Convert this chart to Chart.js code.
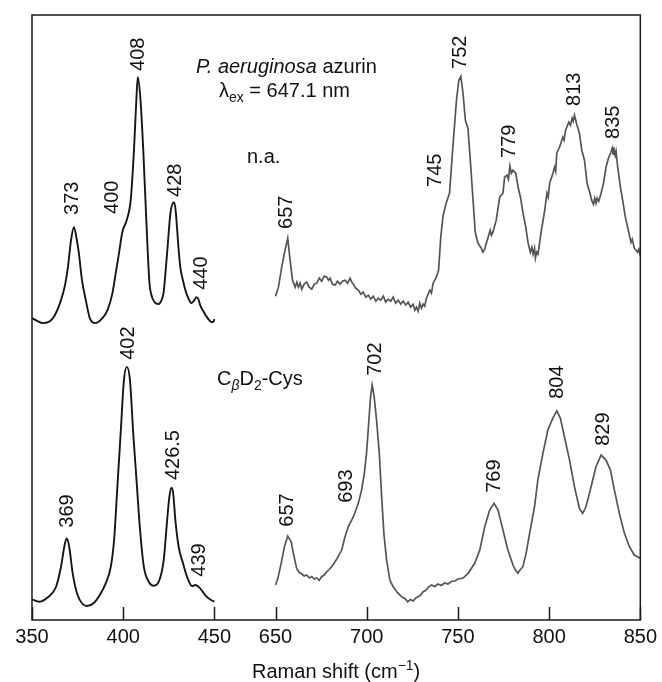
<!DOCTYPE html>
<html>
<head>
<meta charset="utf-8">
<title>Raman spectra of P. aeruginosa azurin</title>
<script src="https://cdn.jsdelivr.net/npm/chart.js@4.4.0/dist/chart.umd.min.js"></script>
<style>
  html, body { margin: 0; padding: 0; background: #fff; }
  #wrap { width: 662px; height: 682px; }
</style>
</head>
<body>
<div id="wrap"><canvas id="ramanChart" width="662" height="682"></canvas></div>
<script>
// DATA : [Raman shift (cm-1), intensity (arb. units)]
const xTicks = [350, 400, 450, 650, 700, 750, 800, 850];
const BREAK_FROM = 450;
const BREAK_TO = 650;
const BREAK_GAP = 33.5; // width of the axis break, in cm-1

// natural abundance, low region
const azurinLow = [
  [350,302],[356.1,297],[361.5,302],[365.9,320],[368.1,335],[369.7,353],[371.4,380],[373,393],
  [374.6,380],[375.7,367],[377.4,340],[379.5,320],[381.7,302],[384.6,297],[388.6,302],[391.4,310],
  [394.1,327],[395.9,347],[397.7,367],[399.5,388],[401.9,400],[404.1,420],[405.9,470],[407.2,520],
  [408,543],[409.5,520],[411,470],[412.6,403],[414.4,337],[415.5,325],[417.2,318],[419.3,316],
  [421,320],[422.1,327],[423.2,348],[424.2,370],[425.9,407],[427.8,418],[428.6,412],[429.2,400],
  [430.2,375],[431.3,353],[433,338],[434.1,330],[435.7,322],[437.3,317],[439,320],[440.1,323],
  [441.2,321],[442.2,315],[443.9,309],[445.5,304],[447.7,299],[449.3,298],[450,301]
];

// natural abundance, high region (noisy trace)
const azurinHigh = [
  [650,324],[651.6,333],[653.4,353],[654.9,367],[656.7,382],[658,360],[659.3,340],[660.8,333],
  [661.7,338],[662.6,333],[663.5,337],[664.4,331],[665.7,336],[667.1,338],[668.5,333],[669.9,331],
  [671.2,336],[672.6,337],[674,342],[675.3,339],[676.7,344],[678.1,343],[679,340],[679.9,342],
  [681.2,336],[682.6,335],[684,339],[685.4,336],[686.7,339],[688.1,340],[689.5,337],[690.9,342],
  [691.8,338],[692.7,336],[694,332],[695.4,330],[696.8,326],[698.1,328],[699.5,323],[700.9,325],
  [702.2,321],[703.6,324],[705,319],[706.3,322],[707.7,320],[709.1,324],[710.4,318],[711.8,321],
  [713.2,319],[714.5,323],[715.9,317],[717.3,320],[718.6,316],[720,319],[721.4,315],[722.7,318],
  [724.1,313],[725.5,316],[726.4,310],[727.3,313],[728.2,309],[729.1,317],[730,312],[730.9,316],
  [731.8,314],[732.7,322],[734.6,330],[735.5,327],[736.4,337],[738.2,343],[739.4,350],[740.6,383],
  [741.9,405],[743.7,418],[745.4,427],[747.1,470],[749.2,520],[750.5,540],[751.6,544],[752.8,527],
  [754.1,500],[755.5,492],[756.8,460],[758.3,420],[759.5,388],[761,377],[762.8,372],[763.7,368],
  [764.7,371],[765.4,376],[766.1,380],[767.7,390],[768.4,385],[769.2,388],[771,400],[772.9,423],
  [774.7,427],[775.6,443],[776.9,445],[777.7,441],[778.5,454],[779.3,447],[780.2,450],[781.7,447],
  [783,433],[784.3,423],[785.7,407],[787.2,393],[788.4,378],[789.7,368],[790.5,373],[791.2,366],
  [792,372],[792.5,362],[793.2,368],[793.9,366],[795.8,390],[797.6,410],[798.8,427],[799.5,423],
  [800.3,437],[802.1,447],[803,453],[803.6,449],[804.2,467],[805.7,473],[807.5,483],[808.2,480],
  [809,490],[810.8,498],[811.7,495],[812.6,502],[813.2,499],[813.9,505],[815.3,495],[816.6,487],
  [817.9,470],[819.4,460],[820.8,437],[822.4,427],[823.3,420],[824.3,416],[825,422],[825.7,417],
  [826.3,422],[827.2,419],[828.5,427],[829.8,437],[831.2,453],[832.5,462],[833.9,468],[834.6,472],
  [835.1,466],[835.4,473],[836.2,465],[836.7,469],[837.6,453],[839.1,433],[840.3,420],[841.8,403],
  [843.4,390],[844.9,378],[845.6,381],[846.7,372],[848.5,368],[849.2,371],[850,365]
];

// CbD2-Cys labelled, low region
const cysLow = [
  [350,20.7],[354.1,18.3],[358.7,22.7],[363.2,33.3],[365.9,53.3],[367.7,73.3],[369,81.7],[370.4,73.3],
  [372.3,46.7],[375,25],[380.1,14],[384.1,17.3],[387.7,26.7],[390.4,36.7],[393.2,53.3],[395,80],
  [396.8,133.3],[398.6,186.7],[400.4,240],[402,253.3],[403.7,240],[405.5,186.7],[407.3,140],[409.1,93.3],
  [411.3,53.3],[414,38.3],[416.8,34.3],[419.5,38.3],[422.2,60],[424.1,100],[425.3,123.3],[426.5,132.3],
  [427.4,126.7],[428.6,100],[430.4,73.3],[432.8,56.7],[435,43.3],[437.7,34],[439.5,35],[442.2,31.7],
  [444.9,25],[448.1,20],[450,18.3]
];

// CbD2-Cys labelled, high region
const cysHigh = [
  [650,35],[651.3,41.7],[653.1,56.7],[654.9,73.3],[656.7,84],[658.6,78.3],[659.8,66.7],[661.6,51.7],
  [663,47.5],[664.4,46],[665.7,44],[667.1,45],[668.5,42],[669.9,43.5],[671.2,41],[672.6,42],
  [673.9,39.5],[675.3,43.3],[676.7,45],[678.1,48.3],[679.4,50.5],[680.8,53.3],[682.2,57],[683.5,60.7],
  [686.3,70],[688.1,83.3],[689.9,93.3],[692.7,103.3],[695.4,116.7],[697.2,130],[698.7,146.7],[699.9,166.7],
  [701.2,200],[702.1,223.3],[703,235],[704.1,223.3],[705.4,200],[706.9,166.7],[708.1,126.7],[709.4,86.7],
  [710.9,60],[712.7,40],[714.5,33.3],[716.9,27.3],[719.5,22.7],[721,21.5],[722.4,18.3],[724,20.5],
  [725.5,19],[726.9,22],[728.2,23.3],[729.6,25],[730.9,28.3],[732.3,29.5],[733.7,32.7],[735.5,35],
  [737.3,33.5],[739.1,36],[740.9,34.5],[742.7,37],[744.6,36],[746.4,38.5],[748.3,39],[750.1,41],
  [752.8,42],[755.6,46.7],[759.2,56.7],[762,70],[764.7,93.3],[767.4,110],[769.8,116.7],[772,110],
  [773.8,96.7],[775.6,83.3],[777.4,70],[780.2,55],[781.5,50],[782.9,46.7],[783.6,49],[785.6,53.3],
  [787.4,66.7],[789.3,86.7],[792,113.3],[793.8,140],[796.6,166.7],[799.3,190],[802,201.7],[804.2,209.3],
  [806.2,201.7],[808.4,183.3],[811.2,160],[813.9,133.3],[816.6,111.7],[818.4,106.7],[820.2,113.3],[823,133.3],
  [825.7,153.3],[828.5,165],[831.2,160],[833.6,150],[835.8,130],[838.5,106.7],[841.3,86.7],[844,73.3],
  [846.7,65],[850,61.7]
];

// PEAK LABELS : [text, Raman shift at label centre, intensity at label centre]
const azurinPeaks = [
  ['373', 372.4, 422], ['400', 394.3, 423], ['408', 408.4, 566], ['428', 428.6, 440], ['440', 442.8, 347],
  ['657', 656, 408], ['745', 737.5, 450], ['752', 751.2, 568], ['779', 778, 479], ['813', 814.1, 531], ['835', 835.4, 498]
];
const cysPeaks = [
  ['369', 369.2, 109], ['402', 403, 277], ['426.5', 427.5, 165], ['439', 441.7, 60],
  ['657', 656.6, 110], ['693', 688.8, 134], ['702', 704.7, 261], ['769', 770.3, 144], ['804', 804.8, 238], ['829', 829.9, 191]
];

const FONT = '"Liberation Sans", Arial, Helvetica, sans-serif';

// BROKEN AXIS : 350-450 and 650-850 sit side by side on one linear scale
function toAxis(w) {
  return w <= BREAK_FROM ? w : w - BREAK_TO + BREAK_FROM + BREAK_GAP;
}
function fromAxis(v) {
  return v <= BREAK_FROM ? v : v - BREAK_FROM - BREAK_GAP + BREAK_TO;
}
function toPoints(arr) {
  return arr.map(p => ({ x: toAxis(p[0]), y: p[1] }));
}

// draws a run of text pieces with their own font / vertical shift
function drawParts(ctx, x, y, parts) {
  parts.forEach(p => {
    ctx.font = p.font;
    ctx.fillText(p.t, x, y + (p.dy || 0));
    x += ctx.measureText(p.t).width;
  });
}
function partsWidth(ctx, parts) {
  let w = 0;
  parts.forEach(p => { ctx.font = p.font; w += ctx.measureText(p.t).width; });
  return w;
}

const decorations = {
  id: 'decorations',
  afterDraw(chart) {
    const ctx = chart.ctx;
    const a = chart.chartArea;
    const xs = chart.scales.x;
    const ys = chart.scales.y;
    ctx.save();

    // FRAME
    ctx.strokeStyle = '#1a1a1a';
    ctx.lineWidth = 1.5;
    ctx.strokeRect(a.left, a.top, a.right - a.left, a.bottom - a.top);

    // INWARD TICKS
    xs.ticks.forEach(t => {
      const px = Math.round(xs.getPixelForValue(t.value)) + 0.5;
      ctx.beginPath();
      ctx.moveTo(px, a.bottom);
      ctx.lineTo(px, a.bottom - 13);
      ctx.stroke();
    });

    // PEAK LABELS (rotated)
    ctx.fillStyle = '#111';
    ctx.font = '20px ' + FONT;
    ctx.textAlign = 'center';
    ctx.textBaseline = 'middle';
    azurinPeaks.concat(cysPeaks).forEach(p => {
      ctx.save();
      ctx.translate(xs.getPixelForValue(toAxis(p[1])), ys.getPixelForValue(p[2]));
      ctx.rotate(-Math.PI / 2);
      ctx.fillText(p[0], 0, 0);
      ctx.restore();
    });

    // SAMPLE TEXT
    ctx.textAlign = 'left';
    ctx.textBaseline = 'alphabetic';
    const big = '20px ' + FONT;
    const small = '14px ' + FONT;
    drawParts(ctx, 196, 73, [
      { t: 'P. aeruginosa', font: 'italic ' + big },
      { t: ' azurin', font: big }
    ]);
    drawParts(ctx, 219, 97, [
      { t: '\u03bb', font: big },
      { t: 'ex', font: small, dy: 5 },
      { t: ' = 647.1 nm', font: big }
    ]);
    drawParts(ctx, 247, 163, [{ t: 'n.a.', font: big }]);
    drawParts(ctx, 217, 385, [
      { t: 'C', font: big },
      { t: '\u03b2', font: 'italic ' + small, dy: 5 },
      { t: 'D', font: big },
      { t: '2', font: small, dy: 5 },
      { t: '-Cys', font: big }
    ]);

    // AXIS TITLE
    const title = [
      { t: 'Raman shift (cm', font: big },
      { t: '\u22121', font: small, dy: -8 },
      { t: ')', font: big }
    ];
    const cx = (a.left + a.right) / 2;
    drawParts(ctx, cx - partsWidth(ctx, title) / 2, 678, title);

    ctx.restore();
  }
};

const ctx = document.getElementById('ramanChart').getContext('2d');
const ramanChart = new Chart(ctx, {
  type: 'line',
  data: {
    datasets: [
      { label: 'azurin low', data: toPoints(azurinLow), borderColor: '#161616', cubicInterpolationMode: 'monotone' },
      { label: 'cys low', data: toPoints(cysLow), borderColor: '#161616', cubicInterpolationMode: 'monotone' },
      { label: 'azurin high', data: toPoints(azurinHigh), borderColor: '#555555', borderWidth: 1.7 },
      { label: 'cys high', data: toPoints(cysHigh), borderColor: '#555555', borderWidth: 1.7 }
    ]
  },
  options: {
    responsive: false,
    animation: false,
    events: [],
    layout: { padding: { left: 32, right: 19, top: 15, bottom: 0 } },
    elements: {
      point: { radius: 0 },
      line: { borderWidth: 1.9, tension: 0, fill: false }
    },
    plugins: {
      legend: { display: false },
      tooltip: { enabled: false }
    },
    scales: {
      x: {
        type: 'linear',
        min: 350,
        max: toAxis(850),
        afterBuildTicks: scale => { scale.ticks = xTicks.map(v => ({ value: toAxis(v) })); },
        afterFit: scale => { scale.height = 62; },
        grid: { display: false, drawTicks: false },
        border: { display: false },
        ticks: {
          autoSkip: false,
          maxRotation: 0,
          padding: 5,
          color: '#111',
          font: { family: FONT, size: 20 },
          callback: v => String(Math.round(fromAxis(v)))
        }
      },
      y: {
        display: false,
        min: 0,
        max: 605.3
      }
    }
  },
  plugins: [decorations]
});
</script>
</body>
</html>
